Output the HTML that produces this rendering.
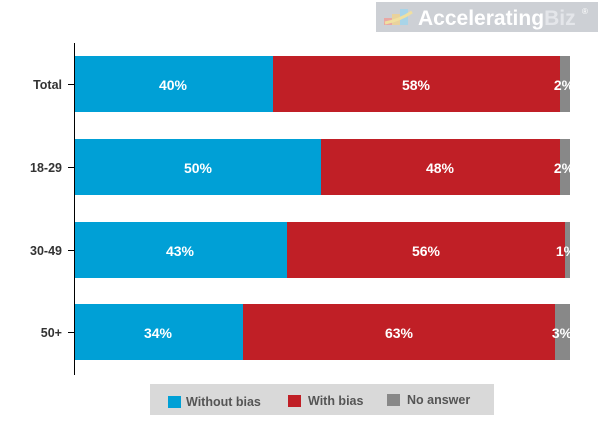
<!DOCTYPE html>
<html><head><style>body{margin:0;background:#fff}svg{display:block;font-family:"Liberation Sans",Arial,sans-serif}</style></head><body>
<svg width="600" height="430" xmlns="http://www.w3.org/2000/svg">
<rect x="376" y="2" width="222" height="30" fill="#cdd0d5"/>
<rect x="384" y="18" width="8" height="7" fill="#e9a7a3"/>
<rect x="392" y="14" width="8" height="11" fill="#e9d29c"/>
<rect x="400" y="9" width="8" height="16" fill="#a8d4e8"/>
<path d="M385 23 Q400 20 412 12" stroke="#f0e0a0" stroke-width="3" fill="none"/>
<text x="418" y="25" font-size="21" font-weight="bold" fill="#fff">Accelerating<tspan fill="#e4e6ea">Biz</tspan></text>
<text x="582" y="14" font-size="8" fill="#fff">®</text>
<line x1="74.5" y1="43" x2="74.5" y2="375" stroke="#000" stroke-width="1"/>
<g stroke="#000"><line x1="68" y1="84.5" x2="74" y2="84.5"/><line x1="68" y1="167.5" x2="74" y2="167.5"/><line x1="68" y1="250.5" x2="74" y2="250.5"/><line x1="68" y1="332.5" x2="74" y2="332.5"/></g>
<g font-size="12.5" font-weight="bold" fill="#333" text-anchor="end">
<text x="62" y="89">Total</text><text x="62" y="172">18-29</text><text x="62" y="255">30-49</text><text x="62" y="337">50+</text></g>
<g>
<rect x="75" y="56" width="198" height="56" fill="#00a0d6"/><rect x="273" y="56" width="287" height="56" fill="#c01f26"/><rect x="560" y="56" width="10" height="56" fill="#888"/>
<rect x="75" y="139" width="246" height="56" fill="#00a0d6"/><rect x="321" y="139" width="239" height="56" fill="#c01f26"/><rect x="560" y="139" width="10" height="56" fill="#888"/>
<rect x="75" y="222" width="212" height="56" fill="#00a0d6"/><rect x="287" y="222" width="278" height="56" fill="#c01f26"/><rect x="565" y="222" width="5" height="56" fill="#888"/>
<rect x="75" y="304" width="168" height="56" fill="#00a0d6"/><rect x="243" y="304" width="312" height="56" fill="#c01f26"/><rect x="555" y="304" width="15" height="56" fill="#888"/>
</g>
<g font-size="14" font-weight="bold" fill="#fff" text-anchor="middle">
<text x="173" y="90">40%</text><text x="416" y="90">58%</text><text x="564" y="90">2%</text>
<text x="198" y="173">50%</text><text x="440" y="173">48%</text><text x="564" y="173">2%</text>
<text x="180" y="256">43%</text><text x="426" y="256">56%</text><text x="566" y="256">1%</text>
<text x="158" y="338">34%</text><text x="399" y="338">63%</text><text x="562" y="338">3%</text>
</g>
<rect x="150" y="384" width="344" height="31" fill="#d9d9d9"/>
<rect x="168" y="396" width="13" height="12" fill="#00a0d6"/>
<rect x="288" y="395" width="13" height="12" fill="#c01f26"/>
<rect x="387" y="394" width="13" height="12" fill="#888"/>
<g font-size="12.5" font-weight="bold" fill="#555">
<text x="186" y="406">Without bias</text><text x="308" y="405">With bias</text><text x="407" y="404">No answer</text></g>
</svg>
</body></html>
